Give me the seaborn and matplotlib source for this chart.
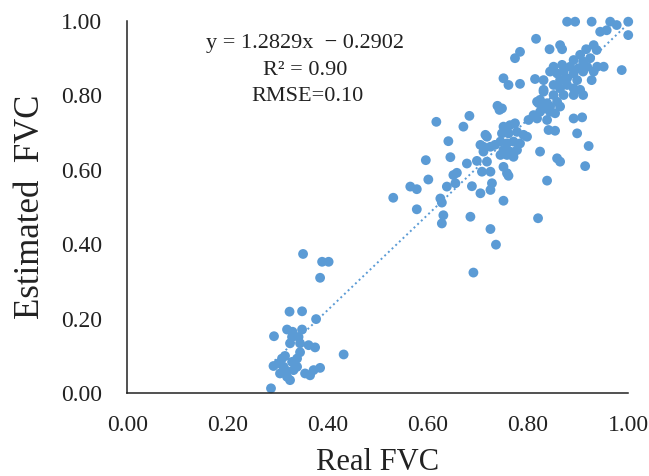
"""Scatter of estimated vs real FVC with the fitted line."""

import matplotlib.pyplot as plt
import numpy as np
import pandas as pd
import seaborn as sns

# values
real_fvc = [
    # low cluster
    0.351, 0.389, 0.402, 0.385, 0.324, 0.349, 0.377, 0.293, 0.319, 0.330,
    0.349, 0.329, 0.342, 0.325, 0.345, 0.362, 0.375, 0.432, 0.292, 0.309,
    0.312, 0.329, 0.339, 0.339, 0.305, 0.319, 0.325, 0.355, 0.365, 0.372,
    0.385, 0.332, 0.287, 0.315, 0.345, 0.302, 0.318,
    # middle
    0.739, 0.743, 0.617, 0.683, 0.671, 0.641, 0.645, 0.596, 0.601, 0.565,
    0.578, 0.578, 0.638, 0.651, 0.658, 0.655, 0.625, 0.628, 0.631, 0.628,
    0.678, 0.698, 0.688, 0.705, 0.685, 0.708, 0.725, 0.728, 0.725, 0.751,
    0.761, 0.751, 0.725, 0.736, 0.691, 0.705, 0.711, 0.718, 0.531,
    # dense centre
    0.821, 0.834, 0.811, 0.801, 0.838, 0.841, 0.715, 0.711, 0.751, 0.764,
    0.774, 0.748, 0.761, 0.778, 0.791, 0.798, 0.745, 0.758, 0.771, 0.784,
    0.751, 0.764, 0.778, 0.745, 0.758, 0.771, 0.734, 0.725, 0.824, 0.718,
    0.758,
    # upper right
    0.878, 0.894, 0.927, 0.964, 0.977, 1.000, 1.000, 0.944, 0.957, 0.816,
    0.784, 0.774, 0.843, 0.864, 0.868, 0.916, 0.931, 0.937, 0.987, 0.951,
    0.751, 0.761, 0.784, 0.814, 0.831, 0.824, 0.844, 0.864, 0.891, 0.908,
    0.854, 0.898, 0.921, 0.858, 0.864, 0.914, 0.838, 0.748, 0.820,
    0.904, 0.891, 0.910, 0.924, 0.851, 0.868, 0.884, 0.901, 0.918, 0.938,
    0.844, 0.858, 0.871, 0.891, 0.910, 0.931, 0.831, 0.864, 0.878, 0.898,
    0.927, 0.851, 0.864, 0.878, 0.891, 0.904, 0.831, 0.851, 0.871, 0.891,
    0.910, 0.818, 0.838, 0.858, 0.824, 0.844, 0.854, 0.818,
]
estimated_fvc = [
    0.374, 0.353, 0.353, 0.310, 0.219, 0.220, 0.199, 0.153, 0.171, 0.165,
    0.171, 0.151, 0.151, 0.134, 0.134, 0.129, 0.123, 0.104, 0.073, 0.093,
    0.071, 0.084, 0.093, 0.071, 0.053, 0.044, 0.035, 0.053, 0.048, 0.062,
    0.068, 0.062, 0.013, 0.100, 0.110, 0.080, 0.060,
    0.772, 0.761, 0.729, 0.745, 0.716, 0.677, 0.634, 0.626, 0.574, 0.555,
    0.548, 0.494, 0.555, 0.586, 0.592, 0.564, 0.523, 0.512, 0.478, 0.456,
    0.617, 0.624, 0.556, 0.537, 0.474, 0.595, 0.595, 0.564, 0.546, 0.608,
    0.584, 0.517, 0.441, 0.399, 0.324, 0.667, 0.649, 0.689, 0.525,
    0.779, 0.765, 0.747, 0.734, 0.734, 0.707, 0.694, 0.662, 0.716, 0.720,
    0.725, 0.698, 0.698, 0.702, 0.694, 0.689, 0.676, 0.671, 0.676, 0.671,
    0.653, 0.649, 0.653, 0.640, 0.640, 0.635, 0.667, 0.662, 0.649, 0.622,
    0.591,
    0.998, 0.998, 0.998, 0.998, 0.989, 0.998, 0.962, 0.971, 0.975, 0.952,
    0.917, 0.900, 0.924, 0.935, 0.924, 0.924, 0.935, 0.922, 0.868, 0.877,
    0.846, 0.828, 0.831, 0.844, 0.815, 0.788, 0.770, 0.770, 0.738, 0.741,
    0.705, 0.698, 0.664, 0.631, 0.622, 0.610, 0.571, 0.765, 0.470,
    0.909, 0.895, 0.891, 0.900, 0.877, 0.882, 0.877, 0.873, 0.877, 0.877,
    0.864, 0.859, 0.864, 0.859, 0.864, 0.864, 0.841, 0.841, 0.846, 0.841,
    0.841, 0.828, 0.819, 0.828, 0.819, 0.815, 0.810, 0.801, 0.801, 0.801,
    0.801, 0.783, 0.779, 0.783, 0.756, 0.756, 0.752, 0.738,
]

slope = 1.2829
intercept = -0.2902
r2_text = "0.90"
rmse_text = "0.10"
ticks = [0.0, 0.2, 0.4, 0.6, 0.8, 1.0]

blue = "#5B9BD5"
ink = "#222222"


def main():
    df = pd.DataFrame({"Real FVC": real_fvc, "Estimated FVC": estimated_fvc})

    sns.set_style("white")
    plt.rcParams["font.family"] = ["Liberation Serif", "DejaVu Serif"]

    fig = plt.figure(figsize=(6.49, 4.76), dpi=100)
    ax = fig.add_axes([0.196, 0.174, 0.772, 0.782])

    xs = np.array([df["Real FVC"].min(), df["Real FVC"].max()])
    ax.plot(xs, slope * xs + intercept, linestyle=(0, (1, 1.6)), color=blue,
            linewidth=1.4, zorder=1)

    sns.scatterplot(
        data=df,
        x="Real FVC",
        y="Estimated FVC",
        color=blue,
        s=50,
        edgecolor="none",
        alpha=1.0,
        clip_on=False,
        zorder=2,
        ax=ax,
    )

    ax.set_xlim(0, 1)
    ax.set_ylim(0, 1)
    ax.set_xticks(ticks)
    ax.set_yticks(ticks)
    ax.set_xticklabels([f"{t:.2f}" for t in ticks])
    ax.set_yticklabels([f"{t:.2f}" for t in ticks])
    ax.tick_params(axis="x", direction="in", length=6, width=1, colors=ink,
                   labelsize=17, pad=16)
    ax.tick_params(axis="y", direction="in", length=6, width=1, colors=ink,
                   labelsize=17, pad=18)
    for side in ["top", "right"]:
        ax.spines[side].set_visible(False)
    for side in ["left", "bottom"]:
        ax.spines[side].set_color(ink)
        ax.spines[side].set_linewidth(1.1)

    ax.set_xlabel("Real FVC", fontsize=22, color=ink, labelpad=8)
    ax.set_ylabel("Estimated  FVC", fontsize=25, color=ink, labelpad=10)

    sign = "\u2212" if intercept < 0 else "+"
    ax.text(0.355, 0.94, f"y = {slope:.4f}x  {sign} {abs(intercept):.4f}",
            ha="center", va="center", fontsize=16, color=ink)
    ax.text(0.355, 0.866, f"R\u00b2 = {r2_text}", ha="center", va="center",
            fontsize=16, color=ink)
    ax.text(0.36, 0.797, f"RMSE={rmse_text}", ha="center", va="center",
            fontsize=16, color=ink)

    fig.savefig("out.png", dpi=100)
    plt.close(fig)


if __name__ == "__main__":
    main()
